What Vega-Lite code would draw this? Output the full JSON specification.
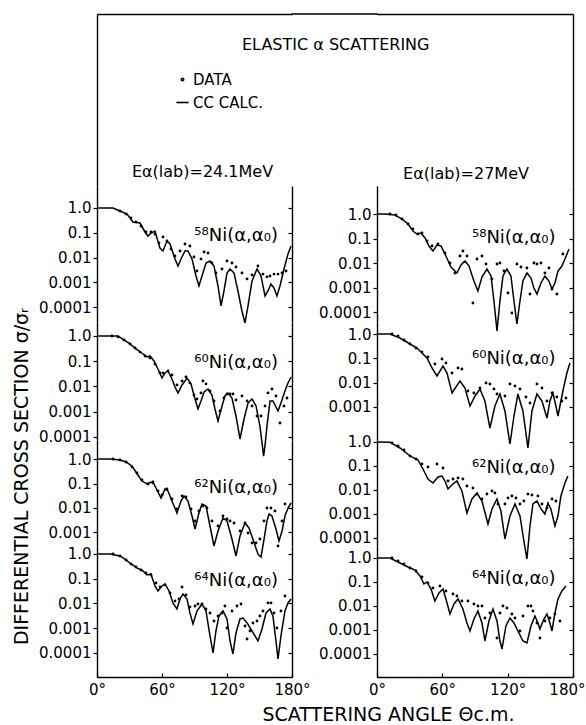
{
"$schema": "https://vega.github.io/schema/vega-lite/v6.json",
"padding": {"left": 12, "top": 13, "right": 0, "bottom": 4},
"background": "white",
"config": {
  "font": "DejaVu Sans",
  "view": {"stroke": null},
  "axis": {"domainColor": "black", "domainWidth": 1.4, "tickColor": "black", "tickWidth": 1.2, "tickSize": 4, "labelColor": "black", "labelFont": "DejaVu Sans", "labelFontSize": 15, "labelPadding": 2, "grid": false, "labelOverlap": false, "labelFlush": false, "titleFont": "DejaVu Sans", "titleFontWeight": "normal", "titleColor": "black", "titleFontSize": 19},
  "title": {"font": "DejaVu Sans", "fontWeight": "normal", "color": "black", "fontSize": 16}
},
"datasets": {
"L58c": [{"angle":0,"ratio":1},{"angle":7.4,"ratio":1},{"angle":14.8,"ratio":1},{"angle":21.2,"ratio":0.757},{"angle":27.7,"ratio":0.573},{"angle":33.2,"ratio":0.272},{"angle":39.7,"ratio":0.248},{"angle":44.3,"ratio":0.108},{"angle":47.1,"ratio":0.0743},{"angle":49.8,"ratio":0.0982},{"angle":53.5,"ratio":0.118},{"angle":58.1,"ratio":0.0244},{"angle":60.9,"ratio":0.0185},{"angle":64.6,"ratio":0.0467},{"angle":67.4,"ratio":0.0353},{"angle":72.0,"ratio":0.00879},{"angle":74.8,"ratio":0.00458},{"angle":77.5,"ratio":0.00879},{"angle":81.2,"ratio":0.0185},{"angle":84.0,"ratio":0.0185},{"angle":87.7,"ratio":0.00879},{"angle":91.4,"ratio":0.00181},{"angle":94.1,"ratio":0.000716},{"angle":96.9,"ratio":0.00181},{"angle":100.6,"ratio":0.00605},{"angle":104.3,"ratio":0.00729},{"angle":108.0,"ratio":0.00458},{"angle":111.7,"ratio":0.000716},{"angle":114.5,"ratio":0.000112},{"angle":117.2,"ratio":0.00045},{"angle":120.0,"ratio":0.00239},{"angle":122.8,"ratio":0.00347},{"angle":126.5,"ratio":0.00239},{"angle":130.1,"ratio":0.00045},{"angle":133.8,"ratio":0.0000703},{"angle":136.6,"ratio":0.0000231},{"angle":139.4,"ratio":0.000112},{"angle":143.1,"ratio":0.00114},{"angle":147.7,"ratio":0.00347},{"angle":151.4,"ratio":0.00181},{"angle":155.1,"ratio":0.000283},{"angle":157.8,"ratio":0.00045},{"angle":160.6,"ratio":0.000862},{"angle":163.4,"ratio":0.000594},{"angle":166.1,"ratio":0.000283},{"angle":168.9,"ratio":0.000716},{"angle":172.6,"ratio":0.00347},{"angle":176.3,"ratio":0.014},{"angle":179.1,"ratio":0.0294}],
"L58d": [{"angle":21.2,"ratio":0.757},{"angle":26.8,"ratio":0.573},{"angle":31.4,"ratio":0.395},{"angle":36.0,"ratio":0.272},{"angle":40.6,"ratio":0.188},{"angle":45.2,"ratio":0.108},{"angle":49.8,"ratio":0.108},{"angle":53.5,"ratio":0.0895},{"angle":57.2,"ratio":0.0388},{"angle":60.9,"ratio":0.068},{"angle":64.6,"ratio":0.0467},{"angle":68.3,"ratio":0.0222},{"angle":72.0,"ratio":0.0116},{"angle":76.6,"ratio":0.0185},{"angle":81.2,"ratio":0.0354},{"angle":85.8,"ratio":0.0294},{"angle":89.5,"ratio":0.0106},{"angle":92.3,"ratio":0.00289},{"angle":96.0,"ratio":0.00879},{"angle":98.8,"ratio":0.0168},{"angle":102.5,"ratio":0.0153},{"angle":106.1,"ratio":0.00605},{"angle":109.8,"ratio":0.00239},{"angle":115.4,"ratio":0.00347},{"angle":120.0,"ratio":0.00729},{"angle":124.6,"ratio":0.00605},{"angle":128.3,"ratio":0.00418},{"angle":133.8,"ratio":0.00239},{"angle":138.5,"ratio":0.00138},{"angle":143.1,"ratio":0.002},{"angle":148.6,"ratio":0.00458},{"angle":153.2,"ratio":0.00217},{"angle":156.9,"ratio":0.00167},{"angle":159.7,"ratio":0.00181},{"angle":163.4,"ratio":0.00217},{"angle":167.1,"ratio":0.00217},{"angle":170.8,"ratio":0.00239},{"angle":174.5,"ratio":0.00289}],
"L60c": [{"angle":0,"ratio":1},{"angle":7.4,"ratio":1},{"angle":19.4,"ratio":1},{"angle":24.9,"ratio":0.694},{"angle":30.5,"ratio":0.482},{"angle":36.0,"ratio":0.305},{"angle":42.5,"ratio":0.193},{"angle":46.2,"ratio":0.147},{"angle":48.9,"ratio":0.161},{"angle":52.6,"ratio":0.102},{"angle":56.3,"ratio":0.049},{"angle":60.0,"ratio":0.0216},{"angle":62.8,"ratio":0.034},{"angle":65.5,"ratio":0.0408},{"angle":69.2,"ratio":0.0197},{"angle":72.0,"ratio":0.00946},{"angle":74.8,"ratio":0.00547},{"angle":78.5,"ratio":0.0114},{"angle":83.1,"ratio":0.0216},{"angle":86.8,"ratio":0.0125},{"angle":90.5,"ratio":0.00316},{"angle":93.2,"ratio":0.00127},{"angle":96.0,"ratio":0.00264},{"angle":98.8,"ratio":0.006},{"angle":102.5,"ratio":0.00788},{"angle":106.1,"ratio":0.00456},{"angle":108.9,"ratio":0.00127},{"angle":111.7,"ratio":0.000424},{"angle":115.4,"ratio":0.00167},{"angle":118.1,"ratio":0.00416},{"angle":120.9,"ratio":0.00547},{"angle":124.6,"ratio":0.00347},{"angle":128.3,"ratio":0.000668},{"angle":132.0,"ratio":0.0000818},{"angle":135.7,"ratio":0.000508},{"angle":139.4,"ratio":0.00219},{"angle":143.1,"ratio":0.00316},{"angle":146.8,"ratio":0.00167},{"angle":150.4,"ratio":0.000268},{"angle":152.3,"ratio":0.00006},{"angle":153.8,"ratio":0.000017},{"angle":155.4,"ratio":0.00006},{"angle":156.9,"ratio":0.000268},{"angle":159.7,"ratio":0.00264},{"angle":162.4,"ratio":0.00264},{"angle":165.2,"ratio":0.00152},{"angle":167.1,"ratio":0.00106},{"angle":169.8,"ratio":0.00219},{"angle":173.5,"ratio":0.00657},{"angle":176.3,"ratio":0.0136},{"angle":179.1,"ratio":0.0236}],
"L60d": [{"angle":13.8,"ratio":1},{"angle":19.4,"ratio":0.913},{"angle":24.9,"ratio":0.694},{"angle":30.5,"ratio":0.482},{"angle":35.1,"ratio":0.334},{"angle":39.7,"ratio":0.232},{"angle":44.3,"ratio":0.161},{"angle":48.9,"ratio":0.134},{"angle":53.5,"ratio":0.0775},{"angle":58.1,"ratio":0.034},{"angle":60.9,"ratio":0.034},{"angle":65.5,"ratio":0.0408},{"angle":69.2,"ratio":0.0283},{"angle":73.8,"ratio":0.0114},{"angle":78.5,"ratio":0.0164},{"angle":82.1,"ratio":0.0237},{"angle":85.8,"ratio":0.0137},{"angle":89.5,"ratio":0.00456},{"angle":92.3,"ratio":0.00316},{"angle":96.0,"ratio":0.0055},{"angle":97.8,"ratio":0.0164},{"angle":100.6,"ratio":0.0125},{"angle":104.3,"ratio":0.00657},{"angle":108.0,"ratio":0.00264},{"angle":113.5,"ratio":0.00106},{"angle":117.2,"ratio":0.00347},{"angle":120.0,"ratio":0.005},{"angle":122.8,"ratio":0.005},{"angle":125.5,"ratio":0.005},{"angle":128.3,"ratio":0.00289},{"angle":133.8,"ratio":0.00416},{"angle":138.5,"ratio":0.00264},{"angle":143.1,"ratio":0.00167},{"angle":147.7,"ratio":0.000668},{"angle":151.4,"ratio":0.000668},{"angle":155.1,"ratio":0.00167},{"angle":157.8,"ratio":0.0055},{"angle":161.5,"ratio":0.00788},{"angle":165.2,"ratio":0.00416},{"angle":168.9,"ratio":0.000353},{"angle":172.6,"ratio":0.00167},{"angle":175.4,"ratio":0.00347}],
"L62c": [{"angle":0,"ratio":1},{"angle":12.0,"ratio":1},{"angle":21.2,"ratio":0.91},{"angle":26.8,"ratio":0.755},{"angle":32.3,"ratio":0.518},{"angle":37.8,"ratio":0.222},{"angle":41.5,"ratio":0.126},{"angle":46.2,"ratio":0.0954},{"angle":49.8,"ratio":0.115},{"angle":52.6,"ratio":0.0954},{"angle":56.3,"ratio":0.045},{"angle":59.1,"ratio":0.0256},{"angle":62.8,"ratio":0.0597},{"angle":65.5,"ratio":0.0494},{"angle":69.2,"ratio":0.0193},{"angle":73.8,"ratio":0.00625},{"angle":77.5,"ratio":0.0193},{"angle":80.3,"ratio":0.0309},{"angle":84.0,"ratio":0.0193},{"angle":87.7,"ratio":0.00471},{"angle":90.5,"ratio":0.00139},{"angle":94.1,"ratio":0.00625},{"angle":96.9,"ratio":0.0146},{"angle":100.6,"ratio":0.0121},{"angle":104.3,"ratio":0.00184},{"angle":108.0,"ratio":0.000281},{"angle":111.7,"ratio":0.00115},{"angle":116.3,"ratio":0.00391},{"angle":120.0,"ratio":0.00295},{"angle":124.6,"ratio":0.000543},{"angle":128.3,"ratio":0.00011},{"angle":132.0,"ratio":0.00072},{"angle":136.6,"ratio":0.00244},{"angle":140.3,"ratio":0.00153},{"angle":144.9,"ratio":0.0004},{"angle":148.6,"ratio":0.00013},{"angle":151.4,"ratio":0.0001},{"angle":154.1,"ratio":0.0005},{"angle":156.9,"ratio":0.003},{"angle":158.8,"ratio":0.00569},{"angle":161.5,"ratio":0.00471},{"angle":165.2,"ratio":0.00139},{"angle":168.0,"ratio":0.00045},{"angle":170.8,"ratio":0.00115},{"angle":173.5,"ratio":0.00471},{"angle":176.3,"ratio":0.01},{"angle":179.1,"ratio":0.016}],
"L62d": [{"angle":14.8,"ratio":1},{"angle":21.2,"ratio":0.91},{"angle":26.8,"ratio":0.755},{"angle":32.3,"ratio":0.471},{"angle":36.9,"ratio":0.268},{"angle":41.5,"ratio":0.139},{"angle":47.1,"ratio":0.0954},{"angle":51.7,"ratio":0.115},{"angle":56.3,"ratio":0.0494},{"angle":60.0,"ratio":0.034},{"angle":64.6,"ratio":0.0597},{"angle":69.2,"ratio":0.0233},{"angle":73.8,"ratio":0.0091},{"angle":78.5,"ratio":0.0309},{"angle":82.1,"ratio":0.0281},{"angle":86.8,"ratio":0.0091},{"angle":90.5,"ratio":0.00295},{"angle":94.1,"ratio":0.00755},{"angle":97.8,"ratio":0.0121},{"angle":101.5,"ratio":0.01},{"angle":106.1,"ratio":0.00295},{"angle":111.7,"ratio":0.00184},{"angle":116.3,"ratio":0.00471},{"angle":120.0,"ratio":0.00356},{"angle":122.8,"ratio":0.00295},{"angle":126.5,"ratio":0.00244},{"angle":132.0,"ratio":0.00115},{"angle":136.6,"ratio":0.00244},{"angle":139.4,"ratio":0.000955},{"angle":143.1,"ratio":0.000373},{"angle":146.8,"ratio":0.000373},{"angle":150.4,"ratio":0.000543},{"angle":154.1,"ratio":0.00295},{"angle":156.9,"ratio":0.01},{"angle":160.6,"ratio":0.01},{"angle":164.3,"ratio":0.00755},{"angle":167.1,"ratio":0.000281},{"angle":170.8,"ratio":0.00295},{"angle":173.5,"ratio":0.0146}],
"L64c": [{"angle":0,"ratio":1},{"angle":12.0,"ratio":1},{"angle":21.2,"ratio":0.83},{"angle":26.8,"ratio":0.572},{"angle":31.4,"ratio":0.394},{"angle":36.9,"ratio":0.272},{"angle":42.5,"ratio":0.206},{"angle":46.2,"ratio":0.142},{"angle":49.8,"ratio":0.156},{"angle":53.5,"ratio":0.051},{"angle":56.3,"ratio":0.032},{"angle":60.0,"ratio":0.051},{"angle":62.8,"ratio":0.0614},{"angle":66.5,"ratio":0.032},{"angle":70.1,"ratio":0.0105},{"angle":73.8,"ratio":0.006},{"angle":76.6,"ratio":0.0152},{"angle":79.4,"ratio":0.0242},{"angle":83.1,"ratio":0.0152},{"angle":85.8,"ratio":0.00413},{"angle":88.6,"ratio":0.00149},{"angle":92.3,"ratio":0.00498},{"angle":96.9,"ratio":0.00955},{"angle":100.6,"ratio":0.00498},{"angle":104.3,"ratio":0.000486},{"angle":107.1,"ratio":0.0001},{"angle":109.8,"ratio":0.000774},{"angle":112.6,"ratio":0.00313},{"angle":116.3,"ratio":0.00498},{"angle":120.0,"ratio":0.00237},{"angle":122.8,"ratio":0.000305},{"angle":125.5,"ratio":0.0000912},{"angle":128.3,"ratio":0.000643},{"angle":132.0,"ratio":0.00237},{"angle":134.8,"ratio":0.00259},{"angle":138.5,"ratio":0.00163},{"angle":143.1,"ratio":0.000774},{"angle":148.6,"ratio":0.000305},{"angle":152.3,"ratio":0.000933},{"angle":156.0,"ratio":0.00413},{"angle":159.7,"ratio":0.006},{"angle":162.4,"ratio":0.00313},{"angle":165.2,"ratio":0.000305},{"angle":167.1,"ratio":0.0000573},{"angle":169.8,"ratio":0.000486},{"angle":173.5,"ratio":0.00498},{"angle":176.3,"ratio":0.0105},{"angle":179.1,"ratio":0.0152}],
"L64d": [{"angle":14.8,"ratio":1},{"angle":21.2,"ratio":0.83},{"angle":26.8,"ratio":0.572},{"angle":31.4,"ratio":0.394},{"angle":36.0,"ratio":0.298},{"angle":40.6,"ratio":0.226},{"angle":45.2,"ratio":0.171},{"angle":49.8,"ratio":0.142},{"angle":54.5,"ratio":0.0673},{"angle":58.1,"ratio":0.0464},{"angle":62.8,"ratio":0.0559},{"angle":67.4,"ratio":0.0266},{"angle":72.0,"ratio":0.0126},{"angle":75.7,"ratio":0.0152},{"angle":78.5,"ratio":0.0464},{"angle":82.1,"ratio":0.0221},{"angle":85.8,"ratio":0.00722},{"angle":90.5,"ratio":0.00793},{"angle":93.2,"ratio":0.00955},{"angle":96.9,"ratio":0.00955},{"angle":100.6,"ratio":0.006},{"angle":104.3,"ratio":0.00413},{"angle":108.0,"ratio":0.00196},{"angle":111.7,"ratio":0.00313},{"angle":115.4,"ratio":0.00413},{"angle":118.1,"ratio":0.00793},{"angle":120.0,"ratio":0.00102},{"angle":124.6,"ratio":0.00498},{"angle":129.2,"ratio":0.00793},{"angle":132.9,"ratio":0.00955},{"angle":136.6,"ratio":0.00123},{"angle":138.5,"ratio":0.000368},{"angle":141.2,"ratio":0.000774},{"angle":144.0,"ratio":0.00163},{"angle":147.7,"ratio":0.00196},{"angle":150.4,"ratio":0.00313},{"angle":153.2,"ratio":0.00498},{"angle":157.8,"ratio":0.0105},{"angle":160.6,"ratio":0.0105},{"angle":163.4,"ratio":0.00413},{"angle":166.1,"ratio":0.00102},{"angle":169.8,"ratio":0.00498},{"angle":173.5,"ratio":0.0201}],
"R58c": [{"angle":0,"ratio":1},{"angle":7.3,"ratio":1},{"angle":16.5,"ratio":0.91},{"angle":23.0,"ratio":0.625},{"angle":28.5,"ratio":0.391},{"angle":33.0,"ratio":0.202},{"angle":36.7,"ratio":0.153},{"angle":40.4,"ratio":0.168},{"angle":44.1,"ratio":0.105},{"angle":47.7,"ratio":0.0494},{"angle":51.4,"ratio":0.0309},{"angle":55.1,"ratio":0.0543},{"angle":58.8,"ratio":0.0494},{"angle":63.3,"ratio":0.0193},{"angle":67.9,"ratio":0.00687},{"angle":73.4,"ratio":0.00391},{"angle":77.1,"ratio":0.00828},{"angle":80.8,"ratio":0.0121},{"angle":84.5,"ratio":0.00755},{"angle":89.0,"ratio":0.00184},{"angle":92.7,"ratio":0.00072},{"angle":96.4,"ratio":0.00268},{"angle":101.0,"ratio":0.00569},{"angle":104.7,"ratio":0.00295},{"angle":107.4,"ratio":0.000281},{"angle":110.2,"ratio":0.0000168},{"angle":112.9,"ratio":0.000281},{"angle":115.7,"ratio":0.00295},{"angle":119.3,"ratio":0.00569},{"angle":123.0,"ratio":0.00295},{"angle":125.8,"ratio":0.000281},{"angle":128.5,"ratio":0.0000324},{"angle":131.3,"ratio":0.000281},{"angle":134.0,"ratio":0.00184},{"angle":137.7,"ratio":0.00391},{"angle":141.4,"ratio":0.00244},{"angle":144.1,"ratio":0.000955},{"angle":146.9,"ratio":0.000543},{"angle":150.6,"ratio":0.00153},{"angle":154.2,"ratio":0.00295},{"angle":157.9,"ratio":0.00184},{"angle":160.7,"ratio":0.000869},{"angle":163.4,"ratio":0.00153},{"angle":166.2,"ratio":0.00471},{"angle":169.8,"ratio":0.00755},{"angle":172.6,"ratio":0.0146},{"angle":176.3,"ratio":0.0373}],
"R58d": [{"angle":11.9,"ratio":1},{"angle":17.4,"ratio":0.91},{"angle":23.0,"ratio":0.625},{"angle":28.5,"ratio":0.391},{"angle":33.0,"ratio":0.244},{"angle":37.6,"ratio":0.153},{"angle":41.3,"ratio":0.168},{"angle":45.9,"ratio":0.079},{"angle":50.5,"ratio":0.0494},{"angle":56.0,"ratio":0.0597},{"angle":62.4,"ratio":0.0256},{"angle":67.0,"ratio":0.01},{"angle":71.6,"ratio":0.00391},{"angle":76.2,"ratio":0.0193},{"angle":78.9,"ratio":0.0309},{"angle":82.6,"ratio":0.0193},{"angle":88.1,"ratio":0.000233},{"angle":91.8,"ratio":0.0146},{"angle":96.4,"ratio":0.0193},{"angle":100.1,"ratio":0.0091},{"angle":105.6,"ratio":0.00222},{"angle":110.2,"ratio":0.0091},{"angle":112.9,"ratio":0.01},{"angle":116.6,"ratio":0.00471},{"angle":120.3,"ratio":0.000597},{"angle":123.9,"ratio":0.000091},{"angle":128.5,"ratio":0.0091},{"angle":132.2,"ratio":0.00687},{"angle":137.7,"ratio":0.00625},{"angle":140.5,"ratio":0.000543},{"angle":144.1,"ratio":0.01},{"angle":146.9,"ratio":0.0091},{"angle":150.6,"ratio":0.01},{"angle":154.2,"ratio":0.00391},{"angle":157.9,"ratio":0.00625},{"angle":160.7,"ratio":0.000869},{"angle":165.2,"ratio":0.000543},{"angle":170.7,"ratio":0.0233}],
"R60c": [{"angle":0,"ratio":1},{"angle":11.9,"ratio":1},{"angle":21.1,"ratio":0.684},{"angle":30.3,"ratio":0.388},{"angle":36.7,"ratio":0.265},{"angle":41.3,"ratio":0.165},{"angle":45.9,"ratio":0.103},{"angle":50.5,"ratio":0.0399},{"angle":55.1,"ratio":0.0187},{"angle":57.8,"ratio":0.03},{"angle":60.6,"ratio":0.0482},{"angle":64.3,"ratio":0.0248},{"angle":68.9,"ratio":0.00373},{"angle":72.5,"ratio":0.00659},{"angle":76.2,"ratio":0.0116},{"angle":80.8,"ratio":0.006},{"angle":85.4,"ratio":0.00109},{"angle":90.0,"ratio":0.00281},{"angle":94.6,"ratio":0.00545},{"angle":99.1,"ratio":0.00175},{"angle":103.7,"ratio":0.000135},{"angle":108.3,"ratio":0.00109},{"angle":112.9,"ratio":0.0034},{"angle":117.5,"ratio":0.000678},{"angle":122.1,"ratio":0.0000297},{"angle":125.8,"ratio":0.000422},{"angle":129.4,"ratio":0.0034},{"angle":134.0,"ratio":0.000678},{"angle":138.6,"ratio":0.0000204},{"angle":142.3,"ratio":0.000678},{"angle":146.9,"ratio":0.0034},{"angle":151.5,"ratio":0.00175},{"angle":156.1,"ratio":0.000349},{"angle":158.8,"ratio":0.00175},{"angle":161.6,"ratio":0.00373},{"angle":164.3,"ratio":0.00109},{"angle":166.2,"ratio":0.000422},{"angle":168.9,"ratio":0.00175},{"angle":171.7,"ratio":0.00724},{"angle":174.4,"ratio":0.0248},{"angle":177.2,"ratio":0.0641}],
"R60d": [{"angle":13.8,"ratio":1},{"angle":19.3,"ratio":0.827},{"angle":24.8,"ratio":0.566},{"angle":30.3,"ratio":0.388},{"angle":35.8,"ratio":0.265},{"angle":41.3,"ratio":0.182},{"angle":46.8,"ratio":0.113},{"angle":53.2,"ratio":0.0582},{"angle":59.7,"ratio":0.0936},{"angle":63.3,"ratio":0.0641},{"angle":68.9,"ratio":0.0248},{"angle":74.4,"ratio":0.0399},{"angle":78.0,"ratio":0.0363},{"angle":83.5,"ratio":0.00451},{"angle":89.0,"ratio":0.00373},{"angle":94.6,"ratio":0.006},{"angle":100.1,"ratio":0.00964},{"angle":103.7,"ratio":0.00876},{"angle":107.4,"ratio":0.00545},{"angle":110.2,"ratio":0.0034},{"angle":117.5,"ratio":0.00281},{"angle":122.1,"ratio":0.00876},{"angle":126.7,"ratio":0.00724},{"angle":131.3,"ratio":0.00545},{"angle":136.8,"ratio":0.00255},{"angle":140.5,"ratio":0.00145},{"angle":146.9,"ratio":0.00876},{"angle":151.5,"ratio":0.006},{"angle":156.1,"ratio":0.00175},{"angle":160.7,"ratio":0.00373},{"angle":165.2,"ratio":0.00255},{"angle":169.8,"ratio":0.00175},{"angle":173.5,"ratio":0.00232}],
"R62c": [{"angle":0,"ratio":1},{"angle":11.9,"ratio":0.98},{"angle":21.1,"ratio":0.562},{"angle":30.3,"ratio":0.261},{"angle":37.6,"ratio":0.178},{"angle":42.2,"ratio":0.075},{"angle":46.8,"ratio":0.0287},{"angle":51.4,"ratio":0.0196},{"angle":56.0,"ratio":0.0348},{"angle":59.7,"ratio":0.0383},{"angle":62.4,"ratio":0.0237},{"angle":65.2,"ratio":0.011},{"angle":68.8,"ratio":0.0162},{"angle":73.4,"ratio":0.0237},{"angle":78.0,"ratio":0.00909},{"angle":82.6,"ratio":0.0011},{"angle":87.2,"ratio":0.00422},{"angle":91.8,"ratio":0.0075},{"angle":96.4,"ratio":0.00348},{"angle":101.9,"ratio":0.000383},{"angle":105.6,"ratio":0.00162},{"angle":110.2,"ratio":0.00422},{"angle":113.8,"ratio":0.00133},{"angle":117.5,"ratio":0.0000909},{"angle":122.1,"ratio":0.000825},{"angle":126.7,"ratio":0.00261},{"angle":131.3,"ratio":0.000825},{"angle":134.9,"ratio":0.000075},{"angle":137.7,"ratio":0.0000133},{"angle":140.5,"ratio":0.000316},{"angle":143.2,"ratio":0.00261},{"angle":146.9,"ratio":0.00348},{"angle":150.6,"ratio":0.00162},{"angle":154.2,"ratio":0.001},{"angle":157.0,"ratio":0.00287},{"angle":159.7,"ratio":0.00162},{"angle":163.4,"ratio":0.000316},{"angle":166.2,"ratio":0.000825},{"angle":168.9,"ratio":0.00562},{"angle":172.6,"ratio":0.0196},{"angle":175.3,"ratio":0.0383}],
"R62d": [{"angle":13.8,"ratio":0.908},{"angle":19.3,"ratio":0.681},{"angle":24.8,"ratio":0.464},{"angle":30.3,"ratio":0.261},{"angle":35.8,"ratio":0.196},{"angle":41.3,"ratio":0.121},{"angle":46.8,"ratio":0.0909},{"angle":55.1,"ratio":0.121},{"angle":60.6,"ratio":0.0825},{"angle":65.2,"ratio":0.0237},{"angle":69.8,"ratio":0.0287},{"angle":74.4,"ratio":0.0316},{"angle":78.9,"ratio":0.0287},{"angle":82.6,"ratio":0.0147},{"angle":88.1,"ratio":0.0121},{"angle":91.8,"ratio":0.00681},{"angle":96.4,"ratio":0.00422},{"angle":101.0,"ratio":0.00681},{"angle":105.6,"ratio":0.00909},{"angle":108.3,"ratio":0.0075},{"angle":111.1,"ratio":0.00261},{"angle":117.5,"ratio":0.00261},{"angle":120.3,"ratio":0.00464},{"angle":123.9,"ratio":0.00562},{"angle":127.6,"ratio":0.00464},{"angle":131.3,"ratio":0.00261},{"angle":134.9,"ratio":0.00348},{"angle":138.6,"ratio":0.00681},{"angle":142.3,"ratio":0.0062},{"angle":147.8,"ratio":0.00562},{"angle":151.5,"ratio":0.00261},{"angle":156.1,"ratio":0.00178},{"angle":160.7,"ratio":0.00422},{"angle":164.3,"ratio":0.00348}],
"R64c": [{"angle":0,"ratio":1},{"angle":11.9,"ratio":1},{"angle":21.1,"ratio":0.619},{"angle":28.5,"ratio":0.422},{"angle":34.9,"ratio":0.316},{"angle":39.5,"ratio":0.178},{"angle":43.1,"ratio":0.0825},{"angle":45.9,"ratio":0.1},{"angle":49.6,"ratio":0.051},{"angle":53.2,"ratio":0.0162},{"angle":56.9,"ratio":0.0348},{"angle":60.6,"ratio":0.051},{"angle":63.3,"ratio":0.0196},{"angle":67.0,"ratio":0.00464},{"angle":70.7,"ratio":0.0121},{"angle":74.4,"ratio":0.0196},{"angle":78.9,"ratio":0.0075},{"angle":82.6,"ratio":0.00196},{"angle":85.4,"ratio":0.000909},{"angle":89.0,"ratio":0.00287},{"angle":92.7,"ratio":0.00619},{"angle":96.4,"ratio":0.00196},{"angle":99.1,"ratio":0.000348},{"angle":102.8,"ratio":0.00237},{"angle":106.5,"ratio":0.0075},{"angle":110.2,"ratio":0.00237},{"angle":112.9,"ratio":0.000348},{"angle":114.8,"ratio":0.000162},{"angle":118.4,"ratio":0.00147},{"angle":122.1,"ratio":0.00316},{"angle":125.8,"ratio":0.00196},{"angle":129.4,"ratio":0.000909},{"angle":134.0,"ratio":0.000348},{"angle":137.7,"ratio":0.000287},{"angle":141.4,"ratio":0.00147},{"angle":145.0,"ratio":0.00383},{"angle":147.8,"ratio":0.00196},{"angle":149.6,"ratio":0.0011},{"angle":153.3,"ratio":0.00287},{"angle":156.1,"ratio":0.00464},{"angle":158.8,"ratio":0.00196},{"angle":160.7,"ratio":0.000909},{"angle":163.4,"ratio":0.00511},{"angle":166.2,"ratio":0.0196},{"angle":169.8,"ratio":0.0422},{"angle":173.5,"ratio":0.0681}],
"R64d": [{"angle":13.8,"ratio":1},{"angle":19.3,"ratio":0.75},{"angle":24.8,"ratio":0.562},{"angle":30.3,"ratio":0.383},{"angle":35.8,"ratio":0.287},{"angle":41.3,"ratio":0.162},{"angle":46.8,"ratio":0.0909},{"angle":51.4,"ratio":0.0562},{"angle":57.8,"ratio":0.0681},{"angle":63.3,"ratio":0.0422},{"angle":69.8,"ratio":0.0316},{"angle":73.4,"ratio":0.0261},{"angle":78.0,"ratio":0.0162},{"angle":83.5,"ratio":0.0162},{"angle":89.0,"ratio":0.0121},{"angle":92.7,"ratio":0.01},{"angle":96.4,"ratio":0.01},{"angle":99.1,"ratio":0.00316},{"angle":103.7,"ratio":0.00511},{"angle":110.2,"ratio":0.000464},{"angle":112.9,"ratio":0.00511},{"angle":115.7,"ratio":0.01},{"angle":119.3,"ratio":0.00825},{"angle":123.9,"ratio":0.00464},{"angle":126.7,"ratio":0.00316},{"angle":131.3,"ratio":0.000909},{"angle":134.0,"ratio":0.00383},{"angle":138.6,"ratio":0.01},{"angle":141.4,"ratio":0.01},{"angle":143.2,"ratio":0.00619},{"angle":146.9,"ratio":0.00196},{"angle":149.6,"ratio":0.000464},{"angle":154.2,"ratio":0.00237},{"angle":158.8,"ratio":0.00316},{"angle":163.4,"ratio":0.00464},{"angle":168.0,"ratio":0.00237}]
},
"concat": [
  {
    "width": 195, "height": 172,
    "data": {"values": [{"kind": "DATA"}, {"kind": "CC CALC."}]},
    "mark": {"type": "point", "filled": false, "color": "black", "opacity": 0},
    "encoding": {
      "x": {"datum": 0, "type": "quantitative", "scale": {"domain": [0, 1]}, "axis": {"orient": "top", "labels": false, "ticks": false, "title": null}},
      "y": {"datum": 0, "type": "quantitative", "scale": {"domain": [0, 1]}, "axis": {"orient": "left", "labels": false, "ticks": false, "title": null}},
      "shape": {"field": "kind", "type": "nominal", "scale": {"domain": ["DATA", "CC CALC."], "range": ["M-0.2,0A0.2,0.2,0,1,1,0.2,0A0.2,0.2,0,1,1,-0.2,0Z", "M-1,0L1,0"]},
        "legend": {"orient": "none", "legendX": 78, "legendY": 58, "title": null, "labelFont": "DejaVu Sans", "labelFontSize": 15, "labelColor": "black", "labelOffset": 3, "rowPadding": 7, "padding": 0, "symbolSize": 150, "symbolFillColor": "black", "symbolStrokeColor": "black", "symbolStrokeWidth": 1.6, "symbolOpacity": 1}}
    },
    "title": {"text": "Eα(lab)=24.1MeV", "orient": "bottom", "anchor": "middle", "offset": -15, "baseline": "middle", "fontSize": 16, "dx": 8}
  },
  {
    "width": 196, "height": 172,
    "layer": [
      {"data": {"values": [{"kind": "frame"}]}, "mark": {"type": "point", "opacity": 0},
       "encoding": {
         "x": {"datum": 0, "type": "quantitative", "scale": {"domain": [0, 1]}, "axis": {"orient": "top", "labels": false, "ticks": false, "title": null}},
         "y": {"datum": 0, "type": "quantitative", "scale": {"domain": [0, 1]}, "axis": {"orient": "right", "labels": false, "ticks": false, "title": null}}}},
      {"data": {"values": [{"kind": "frame"}]}, "mark": {"type": "rule", "color": "black", "strokeWidth": 1.4},
       "encoding": {"x": {"datum": -0.436, "type": "quantitative"}, "x2": {"datum": 0.005}, "y": {"datum": 1, "type": "quantitative"}}}
    ],
    "title": {"text": "Eα(lab)=27MeV", "orient": "bottom", "anchor": "middle", "offset": -15, "baseline": "middle", "fontSize": 16, "dx": -9}
  },
  {"width": 195, "height": 136,
   "layer": [
     {"data": {"name": "L58c"}, "mark": {"type": "line", "color": "black", "strokeWidth": 1.5, "clip": false},
      "encoding": {"x": {"field": "angle", "type": "quantitative", "scale": {"domain": [0, 180], "nice": false, "zero": false}, "axis": null},
                   "y": {"field": "ratio", "type": "quantitative", "scale": {"type": "log", "domain": [2.53e-5, 7.71], "nice": false}, "axis": {"orient": "left", "values": [1, 0.1, 0.01, 0.001, 0.0001], "format": "~g", "labelExpr": "datum.value >= 1 ? '1.0' : datum.label", "title": null}}}},
     {"data": {"name": "L58d"}, "mark": {"type": "circle", "color": "black", "size": 8, "opacity": 1, "clip": false},
      "encoding": {"x": {"field": "angle", "type": "quantitative"},
                   "y": {"field": "ratio", "type": "quantitative", "scale": {"type": "log", "domain": [2.53e-5, 7.71], "nice": false}, "axis": {"orient": "right", "values": [1, 0.1, 0.01, 0.001, 0.0001], "labels": false, "tickSize": -4, "title": null}}}},
     {"data": {"values": [{"label": "⁵⁸Ni(α,α₀)"}]}, "mark": {"type": "text", "align": "right", "baseline": "middle", "fontSize": 18, "color": "black"},
      "encoding": {"x": {"datum": 167, "type": "quantitative"}, "y": {"datum": 0.074, "type": "quantitative", "scale": {"type": "log", "domain": [2.53e-5, 7.71], "nice": false}, "axis": null}, "text": {"field": "label"}}}
   ],
   "resolve": {"scale": {"y": "independent"}}},
  {"width": 196, "height": 136,
   "layer": [
     {"data": {"name": "R58c"}, "mark": {"type": "line", "color": "black", "strokeWidth": 1.5, "clip": false},
      "encoding": {"x": {"field": "angle", "type": "quantitative", "scale": {"domain": [0, 180], "nice": false, "zero": false}, "axis": null},
                   "y": {"field": "ratio", "type": "quantitative", "scale": {"type": "log", "domain": [3.91e-5, 13.9], "nice": false}, "axis": {"orient": "left", "values": [1, 0.1, 0.01, 0.001, 0.0001], "format": "~g", "labelExpr": "datum.value >= 1 ? '1.0' : datum.label", "title": null}}}},
     {"data": {"name": "R58d"}, "mark": {"type": "circle", "color": "black", "size": 8, "opacity": 1, "clip": false},
      "encoding": {"x": {"field": "angle", "type": "quantitative"},
                   "y": {"field": "ratio", "type": "quantitative", "scale": {"type": "log", "domain": [3.91e-5, 13.9], "nice": false}, "axis": {"orient": "right", "values": [1, 0.1, 0.01, 0.001, 0.0001], "labels": false, "tickSize": -4, "title": null}}}},
     {"data": {"values": [{"label": "⁵⁸Ni(α,α₀)"}]}, "mark": {"type": "text", "align": "right", "baseline": "middle", "fontSize": 18, "color": "black"},
      "encoding": {"x": {"datum": 164, "type": "quantitative"}, "y": {"datum": 0.105, "type": "quantitative", "scale": {"type": "log", "domain": [3.91e-5, 13.9], "nice": false}, "axis": null}, "text": {"field": "label"}}}
   ],
   "resolve": {"scale": {"y": "independent"}}},
  {"width": 195, "height": 118,
   "layer": [
     {"data": {"name": "L60c"}, "mark": {"type": "line", "color": "black", "strokeWidth": 1.5, "clip": false},
      "encoding": {"x": {"field": "angle", "type": "quantitative", "scale": {"domain": [0, 180], "nice": false, "zero": false}, "axis": null},
                   "y": {"field": "ratio", "type": "quantitative", "scale": {"type": "log", "domain": [7.46e-5, 3.59], "nice": false}, "axis": {"orient": "left", "values": [1, 0.1, 0.01, 0.001, 0.0001], "format": "~g", "labelExpr": "datum.value >= 1 ? '1.0' : datum.label", "title": null}}}},
     {"data": {"name": "L60d"}, "mark": {"type": "circle", "color": "black", "size": 8, "opacity": 1, "clip": false},
      "encoding": {"x": {"field": "angle", "type": "quantitative"},
                   "y": {"field": "ratio", "type": "quantitative", "scale": {"type": "log", "domain": [7.46e-5, 3.59], "nice": false}, "axis": {"orient": "right", "values": [1, 0.1, 0.01, 0.001, 0.0001], "labels": false, "tickSize": -4, "title": null}}}},
     {"data": {"values": [{"label": "⁶⁰Ni(α,α₀)"}]}, "mark": {"type": "text", "align": "right", "baseline": "middle", "fontSize": 18, "color": "black"},
      "encoding": {"x": {"datum": 167, "type": "quantitative"}, "y": {"datum": 0.085, "type": "quantitative", "scale": {"type": "log", "domain": [7.46e-5, 3.59], "nice": false}, "axis": null}, "text": {"field": "label"}}}
   ],
   "resolve": {"scale": {"y": "independent"}}},
  {"width": 196, "height": 118,
   "layer": [
     {"data": {"name": "R60c"}, "mark": {"type": "line", "color": "black", "strokeWidth": 1.5, "clip": false},
      "encoding": {"x": {"field": "angle", "type": "quantitative", "scale": {"domain": [0, 180], "nice": false, "zero": false}, "axis": null},
                   "y": {"field": "ratio", "type": "quantitative", "scale": {"type": "log", "domain": [4.34e-5, 3.12], "nice": false}, "axis": {"orient": "left", "values": [1, 0.1, 0.01, 0.001], "format": "~g", "labelExpr": "datum.value >= 1 ? '1.0' : datum.label", "title": null}}}},
     {"data": {"name": "R60d"}, "mark": {"type": "circle", "color": "black", "size": 8, "opacity": 1, "clip": false},
      "encoding": {"x": {"field": "angle", "type": "quantitative"},
                   "y": {"field": "ratio", "type": "quantitative", "scale": {"type": "log", "domain": [4.34e-5, 3.12], "nice": false}, "axis": {"orient": "right", "values": [1, 0.1, 0.01, 0.001], "labels": false, "tickSize": -4, "title": null}}}},
     {"data": {"values": [{"label": "⁶⁰Ni(α,α₀)"}]}, "mark": {"type": "text", "align": "right", "baseline": "middle", "fontSize": 18, "color": "black"},
      "encoding": {"x": {"datum": 164, "type": "quantitative"}, "y": {"datum": 0.094, "type": "quantitative", "scale": {"type": "log", "domain": [4.34e-5, 3.12], "nice": false}, "axis": null}, "text": {"field": "label"}}}
   ],
   "resolve": {"scale": {"y": "independent"}}},
  {"width": 195, "height": 106,
   "layer": [
     {"data": {"name": "L62c"}, "mark": {"type": "line", "color": "black", "strokeWidth": 1.5, "clip": false},
      "encoding": {"x": {"field": "angle", "type": "quantitative", "scale": {"domain": [0, 180], "nice": false, "zero": false}, "axis": null},
                   "y": {"field": "ratio", "type": "quantitative", "scale": {"type": "log", "domain": [2.81e-4, 5.97], "nice": false}, "axis": {"orient": "left", "values": [1, 0.1, 0.01, 0.001], "format": "~g", "labelExpr": "datum.value >= 1 ? '1.0' : datum.label", "title": "DIFFERENTIAL CROSS SECTION σ/σᵣ", "titlePadding": 17, "titleY": 36}}}},
     {"data": {"name": "L62d"}, "mark": {"type": "circle", "color": "black", "size": 8, "opacity": 1, "clip": false},
      "encoding": {"x": {"field": "angle", "type": "quantitative"},
                   "y": {"field": "ratio", "type": "quantitative", "scale": {"type": "log", "domain": [2.81e-4, 5.97], "nice": false}, "axis": {"orient": "right", "values": [1, 0.1, 0.01, 0.001], "labels": false, "tickSize": -4, "title": null}}}},
     {"data": {"values": [{"label": "⁶²Ni(α,α₀)"}]}, "mark": {"type": "text", "align": "right", "baseline": "middle", "fontSize": 18, "color": "black"},
      "encoding": {"x": {"datum": 167, "type": "quantitative"}, "y": {"datum": 0.066, "type": "quantitative", "scale": {"type": "log", "domain": [2.81e-4, 5.97], "nice": false}, "axis": null}, "text": {"field": "label"}}}
   ],
   "resolve": {"scale": {"y": "independent"}}},
  {"width": 196, "height": 106,
   "layer": [
     {"data": {"name": "R62c"}, "mark": {"type": "line", "color": "black", "strokeWidth": 1.5, "clip": false},
      "encoding": {"x": {"field": "angle", "type": "quantitative", "scale": {"domain": [0, 180], "nice": false, "zero": false}, "axis": null},
                   "y": {"field": "ratio", "type": "quantitative", "scale": {"type": "log", "domain": [4.64e-5, 1.21], "nice": false}, "axis": {"orient": "left", "values": [1, 0.1, 0.01, 0.001, 0.0001], "format": "~g", "labelExpr": "datum.value >= 1 ? '1.0' : datum.label", "title": null}}}},
     {"data": {"name": "R62d"}, "mark": {"type": "circle", "color": "black", "size": 8, "opacity": 1, "clip": false},
      "encoding": {"x": {"field": "angle", "type": "quantitative"},
                   "y": {"field": "ratio", "type": "quantitative", "scale": {"type": "log", "domain": [4.64e-5, 1.21], "nice": false}, "axis": {"orient": "right", "values": [1, 0.1, 0.01, 0.001, 0.0001], "labels": false, "tickSize": -4, "title": null}}}},
     {"data": {"values": [{"label": "⁶²Ni(α,α₀)"}]}, "mark": {"type": "text", "align": "right", "baseline": "middle", "fontSize": 18, "color": "black"},
      "encoding": {"x": {"datum": 164, "type": "quantitative"}, "y": {"datum": 0.083, "type": "quantitative", "scale": {"type": "log", "domain": [4.64e-5, 1.21], "nice": false}, "axis": null}, "text": {"field": "label"}}}
   ],
   "resolve": {"scale": {"y": "independent"}}},
  {"width": 195, "height": 131,
   "layer": [
     {"data": {"name": "L64c"}, "mark": {"type": "line", "color": "black", "strokeWidth": 1.5, "clip": false},
      "encoding": {"x": {"field": "angle", "type": "quantitative", "scale": {"domain": [0, 180], "nice": false, "zero": false}, "axis": {"orient": "bottom", "values": [0, 60, 120, 180], "labelExpr": "datum.value + '°'", "tickSize": -4, "labelPadding": 9, "title": "SCATTERING ANGLE Θc.m.", "titleX": 291, "titleY": 37, "titleBaseline": "middle"}},
                   "y": {"field": "ratio", "type": "quantitative", "scale": {"type": "log", "domain": [1.07e-5, 2.1], "nice": false}, "axis": {"orient": "left", "values": [1, 0.1, 0.01, 0.001, 0.0001], "format": "~g", "labelExpr": "datum.value >= 1 ? '1.0' : datum.label", "title": null}}}},
     {"data": {"name": "L64d"}, "mark": {"type": "circle", "color": "black", "size": 8, "opacity": 1, "clip": false},
      "encoding": {"x": {"field": "angle", "type": "quantitative"},
                   "y": {"field": "ratio", "type": "quantitative", "scale": {"type": "log", "domain": [1.07e-5, 2.1], "nice": false}, "axis": {"orient": "right", "values": [1, 0.1, 0.01, 0.001, 0.0001], "labels": false, "tickSize": -4, "title": null}}}},
     {"data": {"values": [{"label": "⁶⁴Ni(α,α₀)"}]}, "mark": {"type": "text", "align": "right", "baseline": "middle", "fontSize": 18, "color": "black"},
      "encoding": {"x": {"datum": 167, "type": "quantitative"}, "y": {"datum": 0.081, "type": "quantitative", "scale": {"type": "log", "domain": [1.07e-5, 2.1], "nice": false}, "axis": null}, "text": {"field": "label"}}}
   ],
   "resolve": {"scale": {"y": "independent"}}},
  {"width": 196, "height": 131,
   "layer": [
     {"data": {"name": "R64c"}, "mark": {"type": "line", "color": "black", "strokeWidth": 1.5, "clip": false},
      "encoding": {"x": {"field": "angle", "type": "quantitative", "scale": {"domain": [0, 180], "nice": false, "zero": false}, "axis": {"orient": "bottom", "values": [0, 60, 120, 180], "labelExpr": "datum.value + '°'", "tickSize": -4, "labelPadding": 9, "title": null, "labelAlign": {"condition": {"test": "datum.value === 180", "value": "right"}, "value": "center"}, "labelOffset": {"condition": {"test": "datum.value === 180", "value": 12}, "value": 0}}},
                   "y": {"field": "ratio", "type": "quantitative", "scale": {"type": "log", "domain": [1.1e-5, 3.16], "nice": false}, "axis": {"orient": "left", "values": [1, 0.1, 0.01, 0.001, 0.0001], "format": "~g", "labelExpr": "datum.value >= 1 ? '1.0' : datum.label", "title": null}}}},
     {"data": {"name": "R64d"}, "mark": {"type": "circle", "color": "black", "size": 8, "opacity": 1, "clip": false},
      "encoding": {"x": {"field": "angle", "type": "quantitative"},
                   "y": {"field": "ratio", "type": "quantitative", "scale": {"type": "log", "domain": [1.1e-5, 3.16], "nice": false}, "axis": {"orient": "right", "values": [1, 0.1, 0.01, 0.001, 0.0001], "labels": false, "tickSize": -4, "title": null}}}},
     {"data": {"values": [{"label": "⁶⁴Ni(α,α₀)"}]}, "mark": {"type": "text", "align": "right", "baseline": "middle", "fontSize": 18, "color": "black"},
      "encoding": {"x": {"datum": 164, "type": "quantitative"}, "y": {"datum": 0.133, "type": "quantitative", "scale": {"type": "log", "domain": [1.1e-5, 3.16], "nice": false}, "axis": null}, "text": {"field": "label"}}}
   ],
   "resolve": {"scale": {"y": "independent"}}}
],
"columns": 2,
"spacing": {"row": 0, "column": 85},
"bounds": "flush",
"align": "each",
"resolve": {"legend": {"shape": "independent"}},
"title": {"text": "ELASTIC α SCATTERING", "frame": "group", "anchor": "start", "dx": 145, "offset": -40, "baseline": "top", "fontSize": 16}
}
